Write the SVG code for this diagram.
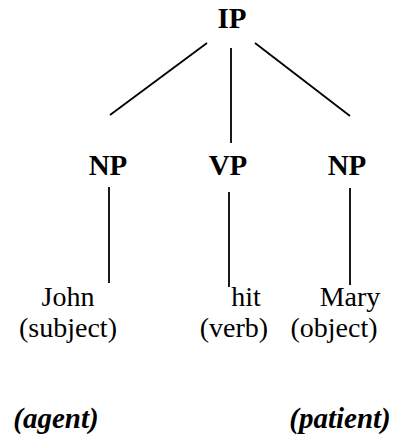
<svg xmlns="http://www.w3.org/2000/svg" width="413" height="440" viewBox="0 0 413 440">
  <style>
    .cat { font-family: "Liberation Serif", "Times New Roman", serif; font-size: 29px; font-weight: bold; fill: #000; text-anchor: middle; }
    .word { font-family: "Liberation Serif", "Times New Roman", serif; font-size: 28px; fill: #000; text-anchor: middle; }
    .role { font-family: "Liberation Serif", "Times New Roman", serif; font-size: 29px; font-weight: bold; font-style: italic; fill: #000; text-anchor: middle; }
    .edge { stroke: #000; stroke-width: 1.8; fill: none; }
  </style>
  <rect width="413" height="440" fill="#fff"/>

  <g id="edges">
    <line class="edge" x1="207" y1="43" x2="110" y2="115"/>
    <line class="edge" x1="231" y1="48" x2="231" y2="143"/>
    <line class="edge" x1="255" y1="43" x2="350" y2="116"/>
    <line class="edge" x1="109" y1="187" x2="109" y2="283"/>
    <line class="edge" x1="229" y1="192" x2="229" y2="287"/>
    <line class="edge" x1="350" y1="188" x2="350" y2="285"/>
  </g>

  <g id="ip"><text class="cat" x="232" y="28">IP</text></g>
  <g id="np-subject"><text class="cat" x="108" y="175">NP</text></g>
  <g id="vp"><text class="cat" x="228" y="175">VP</text></g>
  <g id="np-object"><text class="cat" x="347" y="175">NP</text></g>

  <g id="john">
    <text class="word" x="68" y="306">John</text>
    <text class="word" x="68" y="337">(subject)</text>
  </g>
  <g id="hit">
    <text class="word" x="246" y="306">hit</text>
    <text class="word" x="234" y="337">(verb)</text>
  </g>
  <g id="mary">
    <text class="word" x="350" y="306">Mary</text>
    <text class="word" x="334" y="337">(object)</text>
  </g>

  <g id="agent"><text class="role" x="56" y="428">(agent)</text></g>
  <g id="patient"><text class="role" x="340" y="428">(patient)</text></g>
</svg>
